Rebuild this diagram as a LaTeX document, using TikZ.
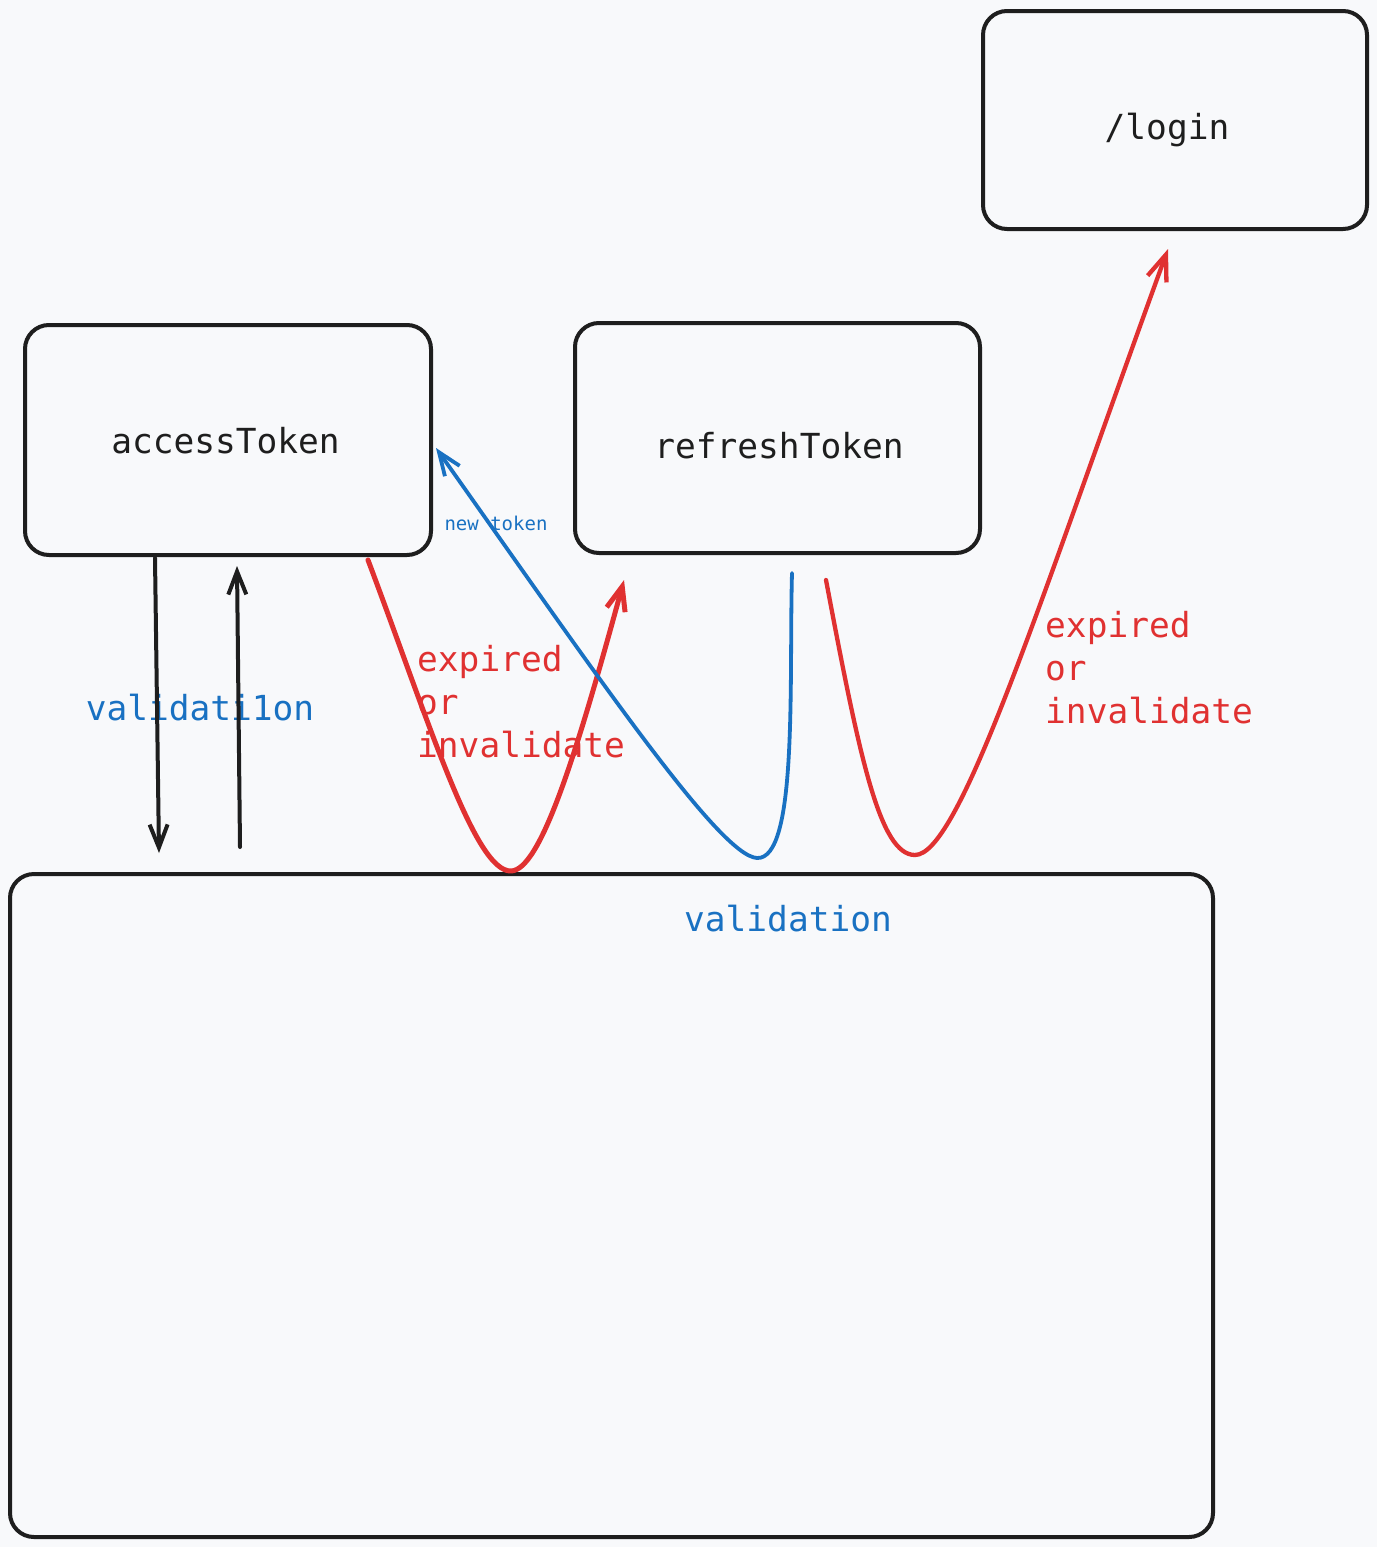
\documentclass[tikz,border=0pt]{standalone}
\usepackage{fontspec}
\setmonofont{DejaVu Sans Mono}
\usetikzlibrary{arrows.meta}
\definecolor{bg}{HTML}{F8F9FB}
\definecolor{ink}{HTML}{1E1E1E}
\definecolor{redc}{HTML}{E03131}
\definecolor{bluec}{HTML}{1971C2}
\begin{document}
\begin{tikzpicture}[x=1pt,y=-1pt,
  box/.style={draw=ink, line width=4pt, rounded corners=24pt, inner sep=0pt},
  lbl/.style={inner sep=0pt, font=\ttfamily\fontsize{34.5}{43}\selectfont, align=left},
  small/.style={inner sep=0pt, font=\ttfamily\fontsize{19}{23}\selectfont},
  conn/.style={line width=4pt, line cap=round, line join=round},
  tip/.style={-{Straight Barb[length=23pt,width=18pt]}}
]
\fill[bg] (0,0) rectangle (1377,1547);
\useasboundingbox (0,0) rectangle (1377,1547);

% boxes
\node[box, minimum width=384pt, minimum height=218pt] (login) at (1175,120) {};
\node[box, minimum width=406pt, minimum height=230pt] (access) at (228,440) {};
\node[box, minimum width=405pt, minimum height=230pt] (refresh) at (777.5,438) {};
\node[box, minimum width=1203pt, minimum height=663pt] (valbox) at (611.5,1205.5) {};

% box texts
\node[lbl, text=ink, anchor=base] (logintxt) at (1167,139) {/login};
\node[lbl, text=ink, anchor=base] (accesstxt) at (225.5,453) {accessToken};
\node[lbl, text=ink, anchor=base] (refreshtxt) at (779,458) {refreshToken};

% labels
\node[lbl, text=bluec, anchor=base] (vtxt) at (200,720) {validati1on};
\node[lbl, text=bluec, anchor=base] (vbtxt) at (788,931) {validation};
\node[small, text=bluec, anchor=base] (ntok) at (496,530) {new token};
\node[lbl, text=redc, anchor=north west] (exp1) at (417,645) {expired\\or\\invalidate};
\node[lbl, text=redc, anchor=north west] (exp2) at (1045,611) {expired\\or\\invalidate};

% endpoints of connectors
\coordinate (d1) at (155,558);
\coordinate (d2) at (159,853);
\coordinate (u1) at (240,847);
\coordinate (u2) at (237,566);
\coordinate (r1a) at (368,560);
\coordinate (r1b) at (511,871);
\coordinate (r1c) at (624,580);
\coordinate (b1a) at (792,573);
\coordinate (b1b) at (757,858);
\coordinate (b1c) at (436,448);
\coordinate (r2a) at (826,580);
\coordinate (r2b) at (915,855);
\coordinate (r2c) at (1168,249);

% black arrows
\draw[conn, ink, tip] (d1) -- (d2);
\draw[conn, ink, tip] (u1) -- (u2);

% red curve 1
\draw[conn, redc, line width=5pt, -{Straight Barb[length=24pt,width=19pt]}] (r1a) .. controls (430,725) and (475,872) .. (r1b)
  .. controls (540,870) and (575,760) .. (r1c);

% blue curve
\draw[conn, bluec, line width=3.8pt, tip] (b1a) .. controls (789,680) and (798,860) .. (b1b)
  .. controls (720,856) and (600,680) .. (b1c);

% red curve 2
\draw[conn, redc, line width=4.3pt, -{Straight Barb[length=26pt,width=20pt]}] (r2a) .. controls (860,760) and (880,855) .. (r2b)
  .. controls (960,855) and (1040,600) .. (r2c);
\end{tikzpicture}
\end{document}
